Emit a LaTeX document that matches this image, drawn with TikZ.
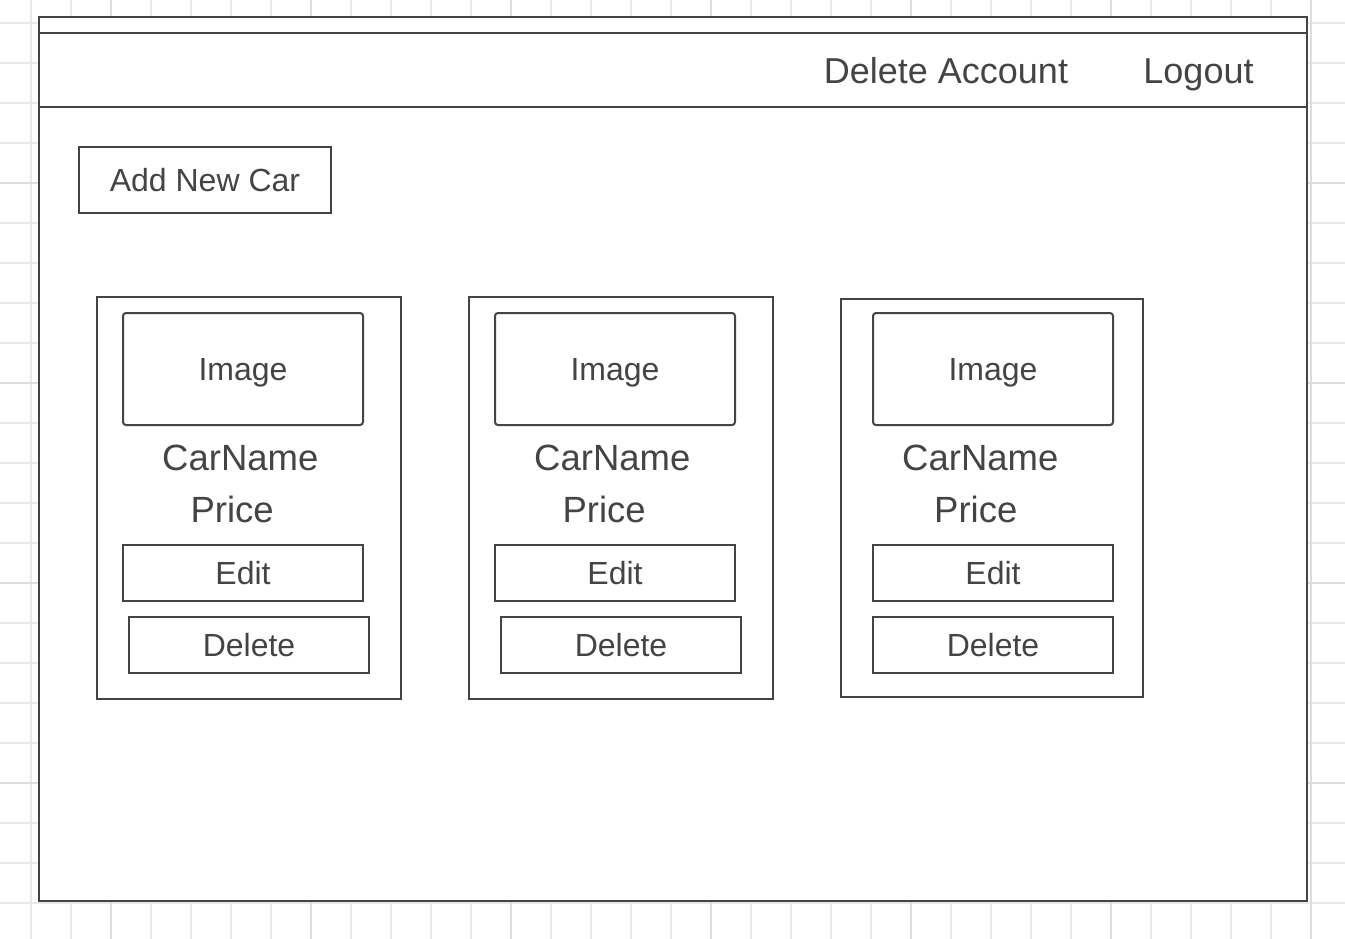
\documentclass[tikz,border=0pt]{standalone}
\usepackage{fontspec}
\setmainfont{Liberation Sans}
\definecolor{ink}{HTML}{444444}
\definecolor{gridminor}{HTML}{E8E8E8}
\definecolor{gridmajor}{HTML}{DCDCDC}
\newcommand{\fsHead}{\fontsize{36}{40}\selectfont}
\newcommand{\fsBtn}{\fontsize{32}{36}\selectfont}
\newcommand{\fsCard}{\fontsize{36.5}{41}\selectfont}
\begin{document}
\begin{tikzpicture}[x=1pt,y=-1pt,
  box/.style={draw=ink, line width=2pt, fill=white, inner sep=0pt, text=ink},
  btn/.style={box, font=\fsBtn, text height=22pt, text depth=0pt},
  imgbox/.style={btn, rounded corners=3pt},
  lbl/.style={text=ink, inner sep=0pt, anchor=base},
  minorline/.style={draw=gridminor, line width=1.2pt},
  majorline/.style={draw=gridmajor, line width=1.2pt}]
\useasboundingbox (0,0) rectangle (1345,939);
\fill[white] (0,0) rectangle (1345,939);
% grid
\foreach \x in {31,71,...,1311} \draw[minorline] (\x,0) -- (\x,939);
\foreach \y in {23,63,...,903} \draw[minorline] (0,\y) -- (1345,\y);
\foreach \x in {111,311,...,1311} \draw[majorline] (\x,0) -- (\x,939);
\foreach \y in {183,383,583,783} \draw[majorline] (0,\y) -- (1345,\y);
% window frame
\node[box, minimum width=1268pt, minimum height=884pt] (frame) at (673,459) {};
\node[box, fill=none, minimum width=1268pt, minimum height=74pt] (header) at (673,70) {};
\node[lbl, font=\fsHead] (delacc) at (946,84) {Delete Account};
\node[lbl, font=\fsHead] (logout) at (1198.5,84) {Logout};
% add button
\node[btn, minimum width=252pt, minimum height=66pt, text height=24pt] (addcar) at (205,180) {Add New Car};
% card 1
\node[box, minimum width=304pt, minimum height=402pt] (card1) at (249,498) {};
\node[imgbox, minimum width=240pt, minimum height=112pt] (img1) at (243,369) {Image};
\node[lbl, font=\fsCard] (name1) at (240.3,470) {CarName};
\node[lbl, font=\fsCard] (price1) at (232.2,522) {Price};
\node[btn, minimum width=240pt, minimum height=56pt] (edit1) at (243,573) {Edit};
\node[btn, minimum width=240pt, minimum height=56pt] (del1) at (249,645) {Delete};
% card 2
\node[box, minimum width=304pt, minimum height=402pt] (card2) at (621,498) {};
\node[imgbox, minimum width=240pt, minimum height=112pt] (img2) at (615,369) {Image};
\node[lbl, font=\fsCard] (name2) at (612.3,470) {CarName};
\node[lbl, font=\fsCard] (price2) at (604.2,522) {Price};
\node[btn, minimum width=240pt, minimum height=56pt] (edit2) at (615,573) {Edit};
\node[btn, minimum width=240pt, minimum height=56pt] (del2) at (621,645) {Delete};
% card 3
\node[box, minimum width=302pt, minimum height=398pt] (card3) at (992,498) {};
\node[imgbox, minimum width=240pt, minimum height=112pt] (img3) at (993,369) {Image};
\node[lbl, font=\fsCard] (name3) at (980.3,470) {CarName};
\node[lbl, font=\fsCard] (price3) at (975.8,522) {Price};
\node[btn, minimum width=240pt, minimum height=56pt] (edit3) at (993,573) {Edit};
\node[btn, minimum width=240pt, minimum height=56pt] (del3) at (993,645) {Delete};
\end{tikzpicture}
\end{document}
